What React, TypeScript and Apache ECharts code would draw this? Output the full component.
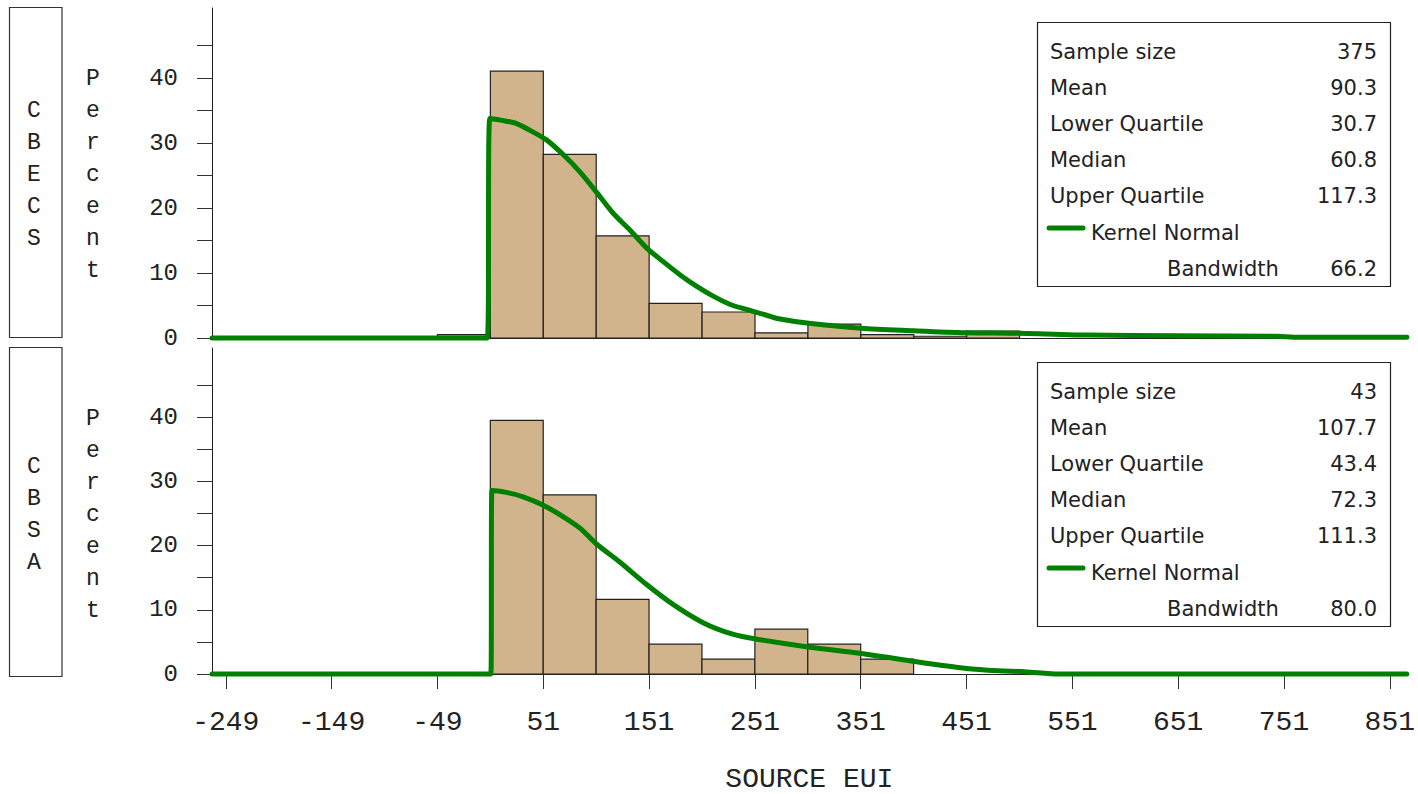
import React, { useEffect, useRef } from "react";
import * as echarts from "echarts";

// ---------- data ----------
const xTickValues = [-249, -149, -49, 51, 151, 251, 351, 451, 551, 651, 751, 851];
const yTickValues = [0, 5, 10, 15, 20, 25, 30, 35, 40, 45];
const yLabelValues = [0, 10, 20, 30, 40];

const panelNames = ["CBECS", "CBSA"];

// histogram bins (lower edge, upper edge) and percent
const cbecsBinLow = [-49, 1, 51, 101, 151, 201, 251, 301, 351, 401, 451];
const cbecsBinHigh = [1, 51, 101, 151, 201, 251, 301, 351, 401, 451, 501];
const cbecsPercent = [0.53, 41.07, 28.27, 15.73, 5.33, 4.0, 0.8, 2.13, 0.53, 0.27, 1.07];

const cbsaBinLow = [1, 51, 101, 151, 201, 251, 301, 351];
const cbsaBinHigh = [51, 101, 151, 201, 251, 301, 351, 401];
const cbsaPercent = [39.53, 27.91, 11.63, 4.65, 2.33, 6.98, 4.65, 2.33];

// kernel normal density (percent scale)
const cbecsKernelX = [-262, -2, 0.5, 12, 24, 38, 54, 70, 86, 101, 117, 133, 149, 164, 180, 196, 212, 227, 243, 262, 272, 302, 351, 401, 450, 498, 540, 565, 650, 745, 760, 867];
const cbecsKernelY = [0, 0, 33.8, 33.5, 33.1, 32.0, 30.5, 28.2, 25.5, 22.5, 19.2, 16.6, 13.8, 11.8, 9.75, 7.95, 6.4, 5.2, 4.4, 3.5, 3.0, 2.26, 1.5, 1.12, 0.82, 0.72, 0.55, 0.45, 0.33, 0.27, 0.12, 0.1];

const cbsaKernelX = [-262, 1.5, 2.5, 16, 32, 51, 70, 86, 101, 123, 149, 174, 202, 230, 252, 303, 350, 400, 451, 481, 506, 539, 867];
const cbsaKernelY = [0, 0, 28.6, 28.3, 27.6, 26.3, 24.5, 22.7, 20.3, 17.5, 13.9, 10.8, 8.0, 6.2, 5.45, 4.17, 3.24, 2.0, 0.87, 0.51, 0.36, 0, 0];

const statLabels = ["Sample size", "Mean", "Lower Quartile", "Median", "Upper Quartile"];
const cbecsStats = ["375", "90.3", "30.7", "60.8", "117.3"];
const cbsaStats = ["43", "107.7", "43.4", "72.3", "111.3"];
const cbecsBandwidth = "66.2";
const cbsaBandwidth = "80.0";
const kernelLabel = "Kernel Normal";
const bandwidthLabel = "Bandwidth";
const yTitle = "Percent";
const xTitle = "SOURCE EUI";

// ---------- styles ----------
const MONO = "'Liberation Mono', 'DejaVu Sans Mono', monospace";
const SANS = "'DejaVu Sans', sans-serif";
const TAN = "#D2B48C";
const GREEN = "#008000";
const INK = "#222";

const X_MIN = -262;
const X_MAX = 867;
const Y_MAX = 50.8;

export default function App() {
  const ref = useRef<HTMLDivElement>(null);

  useEffect(() => {
    if (!ref.current) return;
    const chart = echarts.init(ref.current, null, { renderer: "svg" });

    const grids = [
      { left: 212, top: 8, width: 1195, height: 330 },
      { left: 212, top: 348, width: 1195, height: 329 },
    ];

    const xAxes = grids.map((_, i) => ({
      type: "value",
      gridIndex: i,
      min: X_MIN,
      max: X_MAX,
      splitLine: { show: false },
      axisLine: { show: true, onZero: false, lineStyle: { color: INK, width: 1 } },
      axisTick: {
        show: i === 1,
        length: 15,
        customValues: xTickValues,
        lineStyle: { color: "#333", width: 1 },
      },
      axisLabel: {
        show: i === 1,
        customValues: xTickValues,
        margin: 34,
        fontFamily: MONO,
        fontSize: 28,
        color: INK,
      },
      name: i === 1 ? xTitle : "",
      nameLocation: "middle",
      nameGap: 105,
      nameTextStyle: {
        fontFamily: MONO,
        fontSize: 28,
        color: INK,
        verticalAlign: "middle",
      },
    }));

    const yAxes = grids.map((_, i) => ({
      type: "value",
      gridIndex: i,
      min: 0,
      max: Y_MAX,
      splitLine: { show: false },
      axisLine: { show: true, onZero: false, lineStyle: { color: INK, width: 1 } },
      axisTick: {
        show: true,
        length: 15,
        customValues: yTickValues,
        lineStyle: { color: "#333", width: 1 },
      },
      axisLabel: {
        show: true,
        customValues: yLabelValues,
        margin: 34,
        fontFamily: MONO,
        fontSize: 24,
        color: INK,
      },
    }));

    const histSeries = (idx: number, low: number[], high: number[], pct: number[]) => ({
      type: "custom",
      xAxisIndex: idx,
      yAxisIndex: idx,
      clip: false,
      z: 2,
      encode: { x: [0, 1], y: 2 },
      data: low.map((l, k) => [l, high[k], pct[k]]),
      renderItem: (params: any, api: any) => {
        const p0 = api.coord([api.value(0), api.value(2)]);
        const p1 = api.coord([api.value(1), 0]);
        return {
          type: "rect",
          shape: { x: p0[0], y: p0[1], width: p1[0] - p0[0], height: p1[1] - p0[1] },
          style: { fill: TAN, stroke: INK, lineWidth: 1.2 },
        };
      },
    });

    const kernelSeries = (idx: number, xs: number[], ys: number[]) => ({
      type: "line",
      xAxisIndex: idx,
      yAxisIndex: idx,
      showSymbol: false,
      symbol: "none",
      clip: false,
      smooth: 0.3,
      z: 5,
      lineStyle: { color: GREEN, width: 5, cap: "round", join: "round" },
      data: xs.map((x, k) => [x, ys[k]]),
    });

    const graphics: any[] = [];
    const panelTops = [8, 348];
    const panelCenters = [175, 515];
    const statsList = [cbecsStats, cbsaStats];
    const bwList = [cbecsBandwidth, cbsaBandwidth];
    const FS = 21;

    panelTops.forEach((top, i) => {
      // panel name box
      graphics.push({
        type: "rect",
        shape: { x: 9.5, y: top - 0.5, width: 52.5, height: i === 0 ? 330 : 329 },
        style: { fill: "none", stroke: "#333", lineWidth: 1.2 },
      });
      graphics.push({
        type: "text",
        x: 34,
        y: panelCenters[i],
        style: {
          text: panelNames[i].split("").join("\n"),
          fontFamily: MONO,
          fontSize: 23,
          lineHeight: 32,
          fill: INK,
          align: "center",
          verticalAlign: "middle",
        },
      });
      graphics.push({
        type: "text",
        x: 93,
        y: panelCenters[i],
        style: {
          text: yTitle.split("").join("\n"),
          fontFamily: MONO,
          fontSize: 23,
          lineHeight: 32,
          fill: INK,
          align: "center",
          verticalAlign: "middle",
        },
      });
      // stats inset
      const off = i * 340;
      graphics.push({
        type: "rect",
        z: 10,
        shape: { x: 1037.5, y: 22.5 + off, width: 353, height: 264 },
        style: { fill: "#fff", stroke: INK, lineWidth: 1.2 },
      });
      statLabels.forEach((lab, k) => {
        const y = 52 + k * 36 + off;
        graphics.push({
          type: "text",
          z: 11,
          x: 1050,
          y,
          style: { text: lab, fontFamily: SANS, fontSize: FS, fill: INK, align: "left", verticalAlign: "middle" },
        });
        graphics.push({
          type: "text",
          z: 11,
          x: 1377,
          y,
          style: { text: statsList[i][k], fontFamily: SANS, fontSize: FS, fill: INK, align: "right", verticalAlign: "middle" },
        });
      });
      graphics.push({
        type: "line",
        z: 11,
        shape: { x1: 1049, y1: 228 + off, x2: 1083, y2: 228 + off },
        style: { stroke: GREEN, lineWidth: 5, lineCap: "round" },
      });
      graphics.push({
        type: "text",
        z: 11,
        x: 1091,
        y: 233 + off,
        style: { text: kernelLabel, fontFamily: SANS, fontSize: FS, fill: INK, align: "left", verticalAlign: "middle" },
      });
      graphics.push({
        type: "text",
        z: 11,
        x: 1167,
        y: 269 + off,
        style: { text: bandwidthLabel, fontFamily: SANS, fontSize: FS, fill: INK, align: "left", verticalAlign: "middle" },
      });
      graphics.push({
        type: "text",
        z: 11,
        x: 1377,
        y: 269 + off,
        style: { text: bwList[i], fontFamily: SANS, fontSize: FS, fill: INK, align: "right", verticalAlign: "middle" },
      });
    });

    chart.setOption({
      animation: false,
      backgroundColor: "#fff",
      grid: grids,
      xAxis: xAxes,
      yAxis: yAxes,
      series: [
        histSeries(0, cbecsBinLow, cbecsBinHigh, cbecsPercent),
        histSeries(1, cbsaBinLow, cbsaBinHigh, cbsaPercent),
        kernelSeries(0, cbecsKernelX, cbecsKernelY),
        kernelSeries(1, cbsaKernelX, cbsaKernelY),
      ],
      graphic: graphics,
    });

    return () => chart.dispose();
  }, []);

  return (
    <div
      ref={ref}
      style={{ position: "absolute", left: 0, top: 0, width: 1418, height: 794 }}
    />
  );
}
